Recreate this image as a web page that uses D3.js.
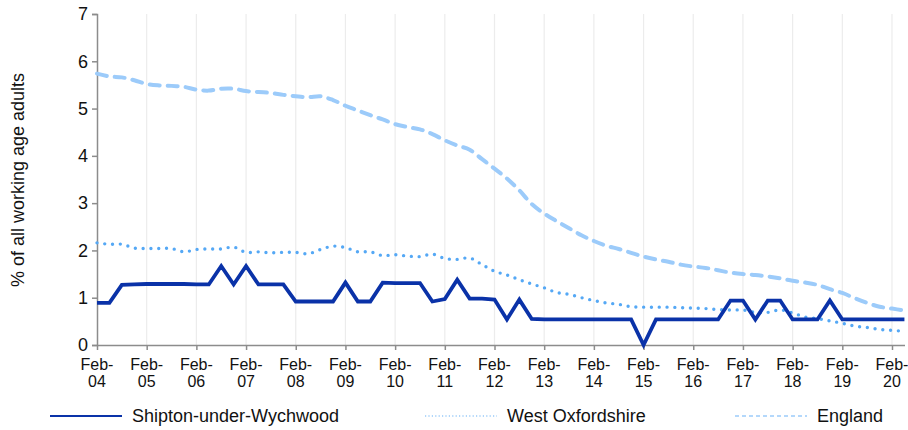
<!DOCTYPE html>
<html>
<head>
<meta charset="utf-8">
<script src="https://cdn.jsdelivr.net/npm/d3@7"></script>
<style>
  body { margin: 0; background: #fff; }
  svg { display: block; font-family: "Liberation Sans", Arial, sans-serif; }
</style>
</head>
<body>
<svg width="908" height="430"></svg>
<script>
// quarterly points, Feb-04 .. May-20
var years = ["04","05","06","07","08","09","10","11","12","13","14","15","16","17","18","19","20"];

var shipton = [
  0.89, 0.89, 1.27, 1.28, 1.29, 1.29, 1.29, 1.29, 1.28, 1.28, 1.67, 1.28,
  1.67, 1.28, 1.28, 1.28, 0.92, 0.92, 0.92, 0.92, 1.32, 0.92, 0.92, 1.32,
  1.31, 1.31, 1.31, 0.92, 0.97, 1.38, 0.98, 0.98, 0.96, 0.54, 0.96, 0.55,
  0.54, 0.54, 0.54, 0.54, 0.54, 0.54, 0.54, 0.54, 0.00, 0.54, 0.54, 0.54,
  0.54, 0.54, 0.54, 0.94, 0.94, 0.54, 0.94, 0.94, 0.54, 0.54, 0.54, 0.94,
  0.54, 0.54, 0.54, 0.54, 0.54, 0.54
];

var westOx = [
  2.16, 2.13, 2.13, 2.05, 2.04, 2.04, 2.04, 1.97, 2.02, 2.03, 2.03, 2.07,
  1.96, 1.97, 1.95, 1.96, 1.96, 1.93, 2.02, 2.09, 2.06, 1.97, 1.97, 1.89,
  1.91, 1.88, 1.87, 1.92, 1.83, 1.81, 1.84, 1.70, 1.56, 1.48, 1.38, 1.29,
  1.21, 1.11, 1.07, 1.00, 0.94, 0.89, 0.86, 0.81, 0.80, 0.80, 0.80, 0.79,
  0.78, 0.77, 0.75, 0.74, 0.74, 0.69, 0.69, 0.74, 0.68, 0.59, 0.56, 0.51,
  0.46, 0.40, 0.37, 0.33, 0.31, 0.29
];

var england = [
  5.74, 5.68, 5.66, 5.60, 5.52, 5.49, 5.48, 5.46, 5.40, 5.38, 5.42, 5.42,
  5.37, 5.35, 5.33, 5.29, 5.26, 5.24, 5.26, 5.18, 5.06, 4.96, 4.86, 4.77,
  4.67, 4.61, 4.56, 4.46, 4.33, 4.22, 4.13, 3.93, 3.73, 3.52, 3.27, 2.98,
  2.78, 2.62, 2.47, 2.32, 2.20, 2.10, 2.03, 1.95, 1.87, 1.81, 1.76, 1.70,
  1.66, 1.63, 1.58, 1.53, 1.50, 1.48, 1.45, 1.41, 1.36, 1.32, 1.27, 1.18,
  1.10, 0.99, 0.89, 0.81, 0.77, 0.73
];

var series = [
  { name: "Shipton-under-Wychwood", values: shipton, color: "#0a32a8" },
  { name: "West Oxfordshire", values: westOx, color: "#55a8f5" },
  { name: "England", values: england, color: "#9ccbfa" }
];

var svg = d3.select("svg");
var plotLeft = 97, plotTop = 14, plotBottom = 345, plotRight = 905;

// x in quarters since Feb-04
var x = d3.scaleLinear().domain([0, 64]).range([plotLeft, 892]);
var y = d3.scaleLinear().domain([0, 7]).range([plotBottom, plotTop]);

// vertical gridlines at every February
svg.append("g")
  .selectAll("line")
  .data(years.slice(1))
  .enter()
  .append("line")
  .attr("x1", (d, i) => x((i + 1) * 4))
  .attr("x2", (d, i) => x((i + 1) * 4))
  .attr("y1", plotTop)
  .attr("y2", plotBottom)
  .attr("stroke", "#ececec")
  .attr("stroke-width", 1.2);

// y axis
var yAxis = svg.append("g")
  .attr("transform", `translate(${plotLeft},0)`)
  .call(d3.axisLeft(y).ticks(7).tickSize(5).tickPadding(4));
yAxis.select(".domain").attr("stroke", "#8c8c8c").attr("stroke-width", 1.5);
yAxis.selectAll(".tick line").attr("stroke", "#8c8c8c").attr("stroke-width", 1.5);
yAxis.selectAll(".tick text")
  .attr("font-size", 18)
  .attr("font-family", "Liberation Sans, Arial, sans-serif")
  .attr("fill", "#111");

// x axis
var xAxis = svg.append("g")
  .attr("transform", `translate(0,${plotBottom})`)
  .call(d3.axisBottom(x)
    .tickValues(d3.range(0, 65, 4))
    .tickSize(5)
    .tickFormat(""));
xAxis.select(".domain").attr("stroke", "#8c8c8c").attr("stroke-width", 1.5)
  .attr("d", `M${plotLeft},0.5H${plotRight}`);
xAxis.selectAll(".tick line").attr("stroke", "#8c8c8c").attr("stroke-width", 1.5);

var labels = svg.append("g")
  .selectAll("text")
  .data(years)
  .enter()
  .append("text")
  .attr("x", (d, i) => x(i * 4))
  .attr("y", 370)
  .attr("text-anchor", "middle")
  .attr("font-size", 16)
  .attr("fill", "#111");
labels.append("tspan").attr("x", (d, i) => x(i * 4)).text("Feb-");
labels.append("tspan").attr("x", (d, i) => x(i * 4)).attr("dy", 17).text(d => d);

// y axis title
svg.append("text")
  .attr("transform", "translate(24,180) rotate(-90)")
  .attr("text-anchor", "middle")
  .attr("font-size", 18)
  .attr("fill", "#111")
  .text("% of all working age adults");

// lines
var straight = d3.line().x((d, i) => x(i)).y(d => y(d));
var smooth = d3.line().x((d, i) => x(i)).y(d => y(d)).curve(d3.curveCatmullRom.alpha(0.5));

svg.append("path")
  .attr("d", smooth(england))
  .attr("fill", "none")
  .attr("stroke", series[2].color)
  .attr("stroke-width", 4)
  .attr("stroke-linecap", "round")
  .attr("stroke-dasharray", "10,8");

svg.append("path")
  .attr("d", smooth(westOx))
  .attr("fill", "none")
  .attr("stroke", series[1].color)
  .attr("stroke-width", 3.4)
  .attr("stroke-linecap", "round")
  .attr("stroke-dasharray", "0,7.8");

svg.append("path")
  .attr("d", straight(shipton))
  .attr("fill", "none")
  .attr("stroke", series[0].color)
  .attr("stroke-width", 3.8)
  .attr("stroke-linejoin", "miter");

// legend
var legendX = [50, 425, 735];
var legend = svg.append("g")
  .selectAll("g")
  .data(series)
  .enter()
  .append("g")
  .attr("transform", (d, i) => `translate(${legendX[i]},416)`);

legend.append("line")
  .attr("x1", 0)
  .attr("x2", 72)
  .attr("stroke", d => d.color)
  .attr("stroke-width", (d, i) => i == 0 ? 2.2 : 1.6)
  .attr("stroke-dasharray", (d, i) => i == 1 ? "1.2,2.2" : i == 2 ? "4,3" : null)
  .attr("opacity", (d, i) => i == 1 ? 0.6 : 1);

legend.append("text")
  .attr("x", 82)
  .attr("y", 6)
  .attr("font-size", 18)
  .attr("fill", "#111")
  .text(d => d.name);
</script>
</body>
</html>
